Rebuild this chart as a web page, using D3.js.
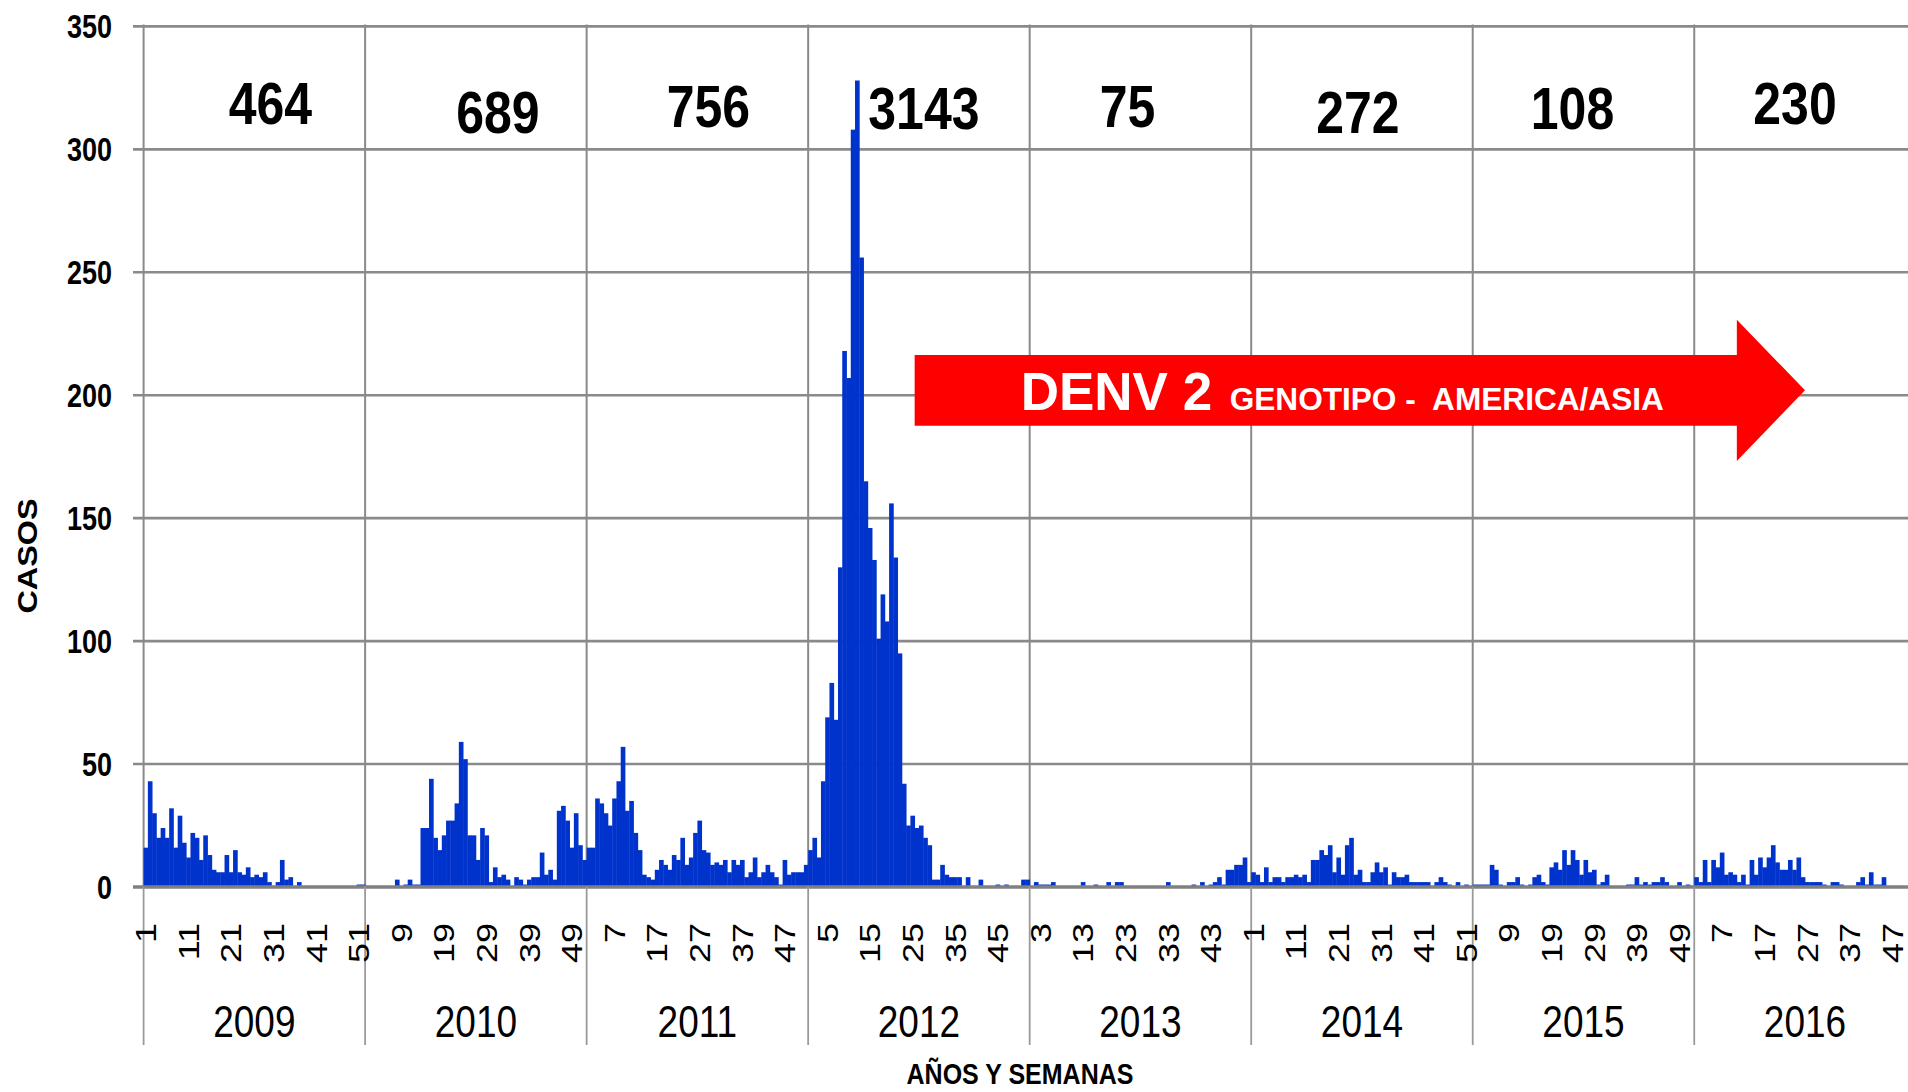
<!DOCTYPE html>
<html>
<head>
<meta charset="utf-8">
<script src="https://cdn.jsdelivr.net/npm/d3@7"></script>
<style>
  body { margin: 0; background: #fff; }
  svg text { font-family: "Liberation Sans", Arial, sans-serif; }
</style>
</head>
<body>
<div id="chart"></div>
<script>
// weekly dengue cases, one array per year (week 1..52)
const years = [2009, 2010, 2011, 2012, 2013, 2014, 2015, 2016]
const yearTotals = ["464", "689", "756", "3143", "75", "272", "108", "230"]

const cases2009 = [16,43,30,20,24,20,32,16,29,18, 12,22,20,11,21,13,7,6,6,13, 6,15,6,5,8,4,5,4,6,2, 0,2,11,3,4,0,2,0,0,0, 0,0,0,0,0,0,0,0,0,0, 1,1]
const cases2010 = [0,0,0,0,0,0,0,3,0,1, 3,1,1,24,24,44,20,15,21,27, 27,34,59,52,21,21,11,24,21,2, 8,4,5,3,0,4,3,1,3,4, 4,14,5,7,3,31,33,27,16,30, 17,11]
const cases2011 = [16,16,36,34,30,25,36,43,57,31, 35,22,15,5,4,3,7,11,9,7, 13,11,20,9,12,22,27,15,14,9, 10,9,11,6,11,9,11,4,6,12, 4,6,9,6,4,1,11,5,6,6, 6,9]
const cases2012 = [15,20,12,43,69,83,68,130,218,207, 308,328,256,165,146,133,101,119,108,156, 134,95,42,25,29,24,25,20,17,3, 3,9,5,4,4,4,0,4,0,0, 3,0,0,0,1,0,1,0,0,0, 3,3]
const cases2013 = [0,2,1,1,1,2,0,0,0,0, 0,0,2,0,0,1,0,0,2,0, 2,2,0,0,0,0,0,0,0,0, 0,0,2,0,0,0,0,0,1,0, 2,0,1,2,4,1,7,7,9,9, 12,2]
const cases2014 = [6,5,2,8,2,4,4,2,4,4, 5,4,5,2,11,11,15,13,17,6, 12,5,17,20,5,7,2,2,6,10, 6,8,1,6,4,4,5,2,2,2, 2,2,0,2,4,2,1,0,2,0, 1,0]
const cases2015 = [1,1,1,1,9,7,1,0,2,2, 4,1,0,1,4,5,2,1,8,10, 7,15,9,15,11,5,11,6,7,1, 2,5,0,0,0,0,1,1,4,1, 2,1,2,2,4,2,0,0,2,0, 1,0]
const cases2016 = [4,2,11,2,11,8,14,5,6,5, 2,5,1,11,5,12,8,12,17,10, 7,7,11,7,12,4,2,2,2,2, 1,0,2,2,1,0,0,0,2,4, 1,6,1,1,4,0,0,0,0,0, 0,0]

const yTicks = [0, 50, 100, 150, 200, 250, 300, 350]

const casesByYear = [cases2009, cases2010, cases2011, cases2012, cases2013, cases2014, cases2015, cases2016]

const width = 1908, height = 1092
const left = 143.6, weekW = 4.26
const stretch = 1.2   // text in the original is stretched vertically
// hand placement of the yearly totals (px shift from the year centre)
const totalNudge = [[16, -5], [22, 4], [11, -2], [5, 0], [-13, -2], [-4, 4], [-11, 0], [-10, -5]]

let weekly = []
years.forEach((yr, i) => {
  casesByYear[i].forEach((v, w) => {
    weekly.push({ key: yr + "-" + (w + 1), year: yr, week: w + 1, value: v })
  })
})

let x = d3.scaleBand()
  .domain(weekly.map(d => d.key))
  .range([left, left + weekly.length * weekW])
  .padding(0)

let y = d3.scaleLinear()
  .domain([0, 350])
  .range([887, 26.4])

const svg = d3.select("#chart")
  .append("svg")
  .attr("width", width)
  .attr("height", height)
  .style("display", "block")

svg.append("rect").attr("width", width).attr("height", height).attr("fill", "#fff")

// horizontal gridlines
svg.append("g")
  .selectAll("line")
  .data(yTicks.filter(t => t > 0))
  .enter()
  .append("line")
  .attr("x1", 133).attr("x2", width)
  .attr("y1", d => y(d)).attr("y2", d => y(d))
  .attr("stroke", "#8a8a8a")
  .attr("stroke-width", 2.6)

// vertical year lines in the plot
let yearStart = years.map(yr => x(yr + "-1"))
svg.append("g")
  .selectAll("line")
  .data(yearStart)
  .enter()
  .append("line")
  .attr("x1", d => d).attr("x2", d => d)
  .attr("y1", y(350) - 2).attr("y2", y(0))
  .attr("stroke", "#8a8a8a")
  .attr("stroke-width", 2)

// bars
svg.append("g")
  .selectAll("rect")
  .data(weekly.filter(d => d.value > 0))
  .enter()
  .append("rect")
  .attr("x", d => x(d.key))
  .attr("width", x.bandwidth() + 0.4)
  .attr("y", d => y(d.value))
  .attr("height", d => y(0) - y(d.value))
  .attr("fill", "#0033cc")

// zero axis line
svg.append("line")
  .attr("x1", 133).attr("x2", width)
  .attr("y1", y(0)).attr("y2", y(0))
  .attr("stroke", "#808080")
  .attr("stroke-width", 3.4)

// separators in the label area
svg.append("g")
  .selectAll("line")
  .data(yearStart)
  .enter()
  .append("line")
  .attr("x1", d => d).attr("x2", d => d)
  .attr("y1", y(0)).attr("y2", 1045)
  .attr("stroke", "#9a9a9a")
  .attr("stroke-width", 1.8)

// y tick labels
svg.append("g")
  .selectAll("text")
  .data(yTicks)
  .enter()
  .append("text")
  .attr("transform", d => "translate(112," + y(d) + ") scale(1," + stretch + ")")
  .attr("dy", "0.36em")
  .attr("text-anchor", "end")
  .attr("font-size", "27px")
  .attr("font-weight", "bold")
  .text(d => d)

// week labels every 10 weeks
svg.append("g")
  .selectAll("text")
  .data(weekly.filter((d, i) => i % 10 === 0))
  .enter()
  .append("text")
  .attr("transform", d => "translate(" + (x(d.key) + x.bandwidth() / 2) + ",923) scale(1," + stretch + ") rotate(-90)")
  .attr("dy", "0.35em")
  .attr("text-anchor", "end")
  .attr("font-size", "30px")
  .text(d => d.week)

// year labels
svg.append("g")
  .selectAll("text")
  .data(years)
  .enter()
  .append("text")
  .attr("transform", (d, i) => "translate(" + (yearStart[i] + 26 * weekW) + ",1037) scale(1," + stretch + ")")
  .attr("text-anchor", "middle")
  .attr("font-size", "37px")
  .text(d => d)

// yearly totals
svg.append("g")
  .selectAll("text")
  .data(yearTotals)
  .enter()
  .append("text")
  .attr("transform", (d, i) => "translate(" + (yearStart[i] + 26 * weekW + totalNudge[i][0]) + "," + (129 + totalNudge[i][1]) + ") scale(1," + stretch + ")")
  .attr("text-anchor", "middle")
  .attr("font-size", "50px")
  .attr("font-weight", "bold")
  .text(d => d)

// axis titles
svg.append("text")
  .attr("transform", "translate(1020,1084) scale(1," + stretch + ")")
  .attr("text-anchor", "middle")
  .attr("font-size", "25px")
  .attr("font-weight", "bold")
  .text("AÑOS Y SEMANAS")

svg.append("text")
  .attr("transform", "translate(27,556) scale(1," + stretch + ") rotate(-90)")
  .attr("text-anchor", "middle")
  .attr("dy", "0.36em")
  .attr("font-size", "27px")
  .attr("font-weight", "bold")
  .text("CASOS")

// red arrow: DENV 2 from mid 2012 onward
let aStart = x("2012-26"), aBase = x("2016-11"), aTip = x("2016-27")
let cy = y(202), bodyH = y(187.6) - y(216.4), headH = y(173.2) - y(230.6)
let arrowPts = [
  [aStart, cy - bodyH / 2], [aBase, cy - bodyH / 2], [aBase, cy - headH / 2],
  [aTip, cy], [aBase, cy + headH / 2], [aBase, cy + bodyH / 2], [aStart, cy + bodyH / 2]
]
svg.append("path")
  .attr("d", d3.line()(arrowPts) + "Z")
  .attr("fill", "#ff0000")

let arrowText = svg.append("text")
  .attr("x", aStart + 106)
  .attr("y", cy + 20)
  .attr("fill", "#fff")
  .attr("font-weight", "bold")
  .style("white-space", "pre")
arrowText.append("tspan").attr("font-size", "53px").text("DENV 2")
arrowText.append("tspan").attr("font-size", "31.6px").text("  GENOTIPO -  AMERICA/ASIA")
</script>
</body>
</html>
